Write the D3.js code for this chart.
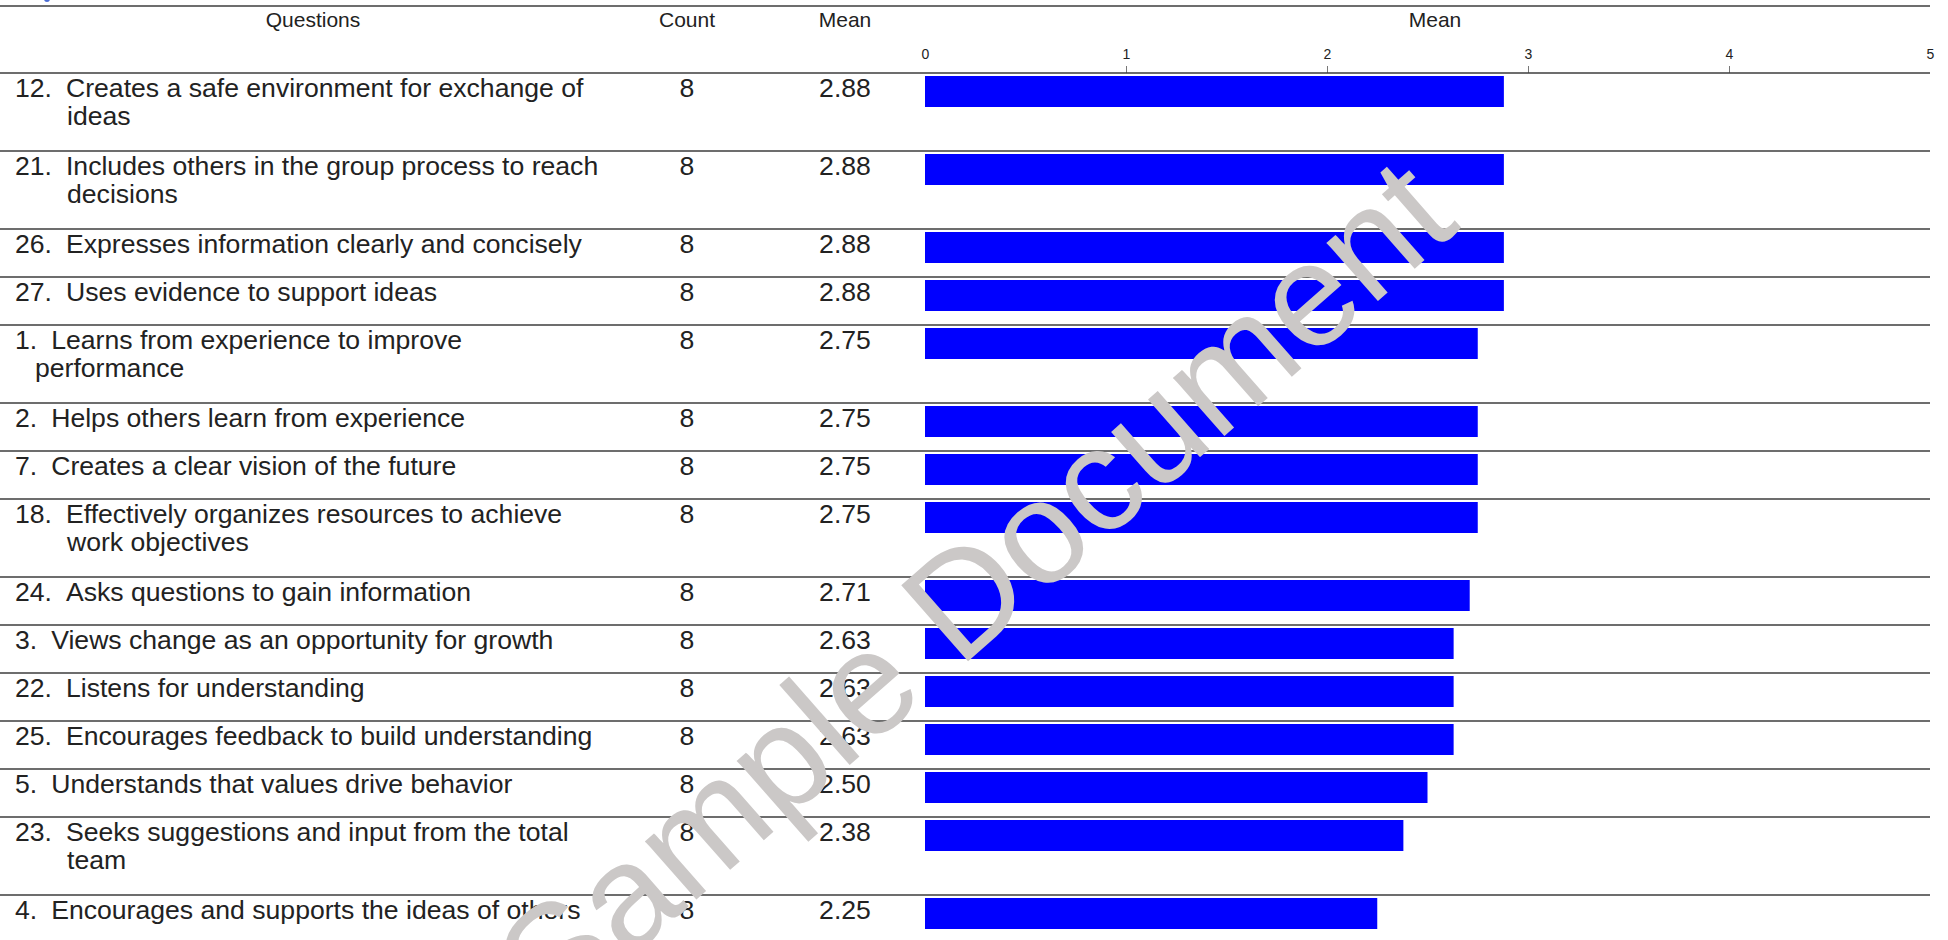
<!DOCTYPE html>
<html lang="en">
<head>
    <meta charset="UTF-8">
    <title>Questions - Mean</title>
    <script src="https://d3js.org/d3.v7.min.js"></script>
    <style>
        body { margin: 0; background: #fff; }
        svg { display: block; font-family: "Liberation Sans", Arial, sans-serif; }
        .rule { stroke: #3c3c3c; stroke-width: 1.5; }
        .hdr { font-size: 21px; fill: #222; }
        .cell { font-size: 26.6px; fill: #222; }
        .bar { fill: #0000ff; }
    </style>
</head>
<body>
<script>
    var questionNums = [12, 21, 26, 27, 1, 2, 7, 18, 24, 3, 22, 25, 5, 23, 4];
    var questionTexts = [
        "Creates a safe environment for exchange of ideas",
        "Includes others in the group process to reach decisions",
        "Expresses information clearly and concisely",
        "Uses evidence to support ideas",
        "Learns from experience to improve performance",
        "Helps others learn from experience",
        "Creates a clear vision of the future",
        "Effectively organizes resources to achieve work objectives",
        "Asks questions to gain information",
        "Views change as an opportunity for growth",
        "Listens for understanding",
        "Encourages feedback to build understanding",
        "Understands that values drive behavior",
        "Seeks suggestions and input from the total team",
        "Encourages and supports the ideas of others"
    ];
    var counts = [8, 8, 8, 8, 8, 8, 8, 8, 8, 8, 8, 8, 8, 8, 8];
    var means = [2.88, 2.88, 2.88, 2.88, 2.75, 2.75, 2.75, 2.75, 2.71, 2.63, 2.63, 2.63, 2.50, 2.38, 2.25];
    var axisTicks = [0, 1, 2, 3, 4, 5];

    var width = 1948, height = 940;
    var lineRight = 1930;
    var headTop = 73;       // y of the rule under the header
    var textX = 15, wrapRight = 609;

    var svg = d3.select("body").append("svg")
        .attr("width", width)
        .attr("height", height);

    var x = d3.scaleLinear().domain([0, 5]).range([925, 1930]);

    // text measuring helper
    var probe = svg.append("text").attr("class", "cell").attr("x", -9999).attr("y", -9999);
    function textWidth(s) {
        probe.text(s);
        return probe.node().getComputedTextLength();
    }

    // wrap each question; continuation lines are hung under the text
    var rows = [];
    var y = headTop;
    questionNums.forEach(function(num, i) {
        var numLabel = num + ".";
        var firstX = textX + textWidth(numLabel) + 14;
        var contX = textX + String(num).length * 32 - 12;
        var words = questionTexts[i].split(" ");
        var lines = [], cur = "", curX = firstX;
        words.forEach(function(w) {
            var test = cur ? cur + " " + w : w;
            if (cur && curX + textWidth(test) > wrapRight) {
                lines.push({ x: curX, text: cur });
                cur = w;
                curX = contX;
            } else {
                cur = test;
            }
        });
        lines.push({ x: curX, text: cur });
        var h = 48 + 30 * (lines.length - 1);
        rows.push({ num: numLabel, lines: lines, count: counts[i], mean: means[i], top: y, h: h });
        y += h;
    });
    probe.remove();

    // header
    svg.append("line").attr("class", "rule")
        .attr("x1", 0).attr("x2", lineRight).attr("y1", 6).attr("y2", 6);
    svg.append("circle").attr("cx", 47).attr("cy", -1).attr("r", 3).attr("fill", "#4a6cd4");

    var headers = [
        { label: "Questions", x: 313 },
        { label: "Count", x: 687 },
        { label: "Mean", x: 845 },
        { label: "Mean", x: 1435 }
    ];
    svg.selectAll(".hdr")
        .data(headers)
        .enter().append("text")
        .attr("class", "hdr")
        .attr("x", function(d) { return d.x; })
        .attr("y", 27)
        .attr("text-anchor", "middle")
        .text(function(d) { return d.label; });

    // axis on top of the bars
    var axis = svg.append("g")
        .attr("transform", "translate(0," + headTop + ")")
        .call(d3.axisTop(x).tickValues(axisTicks).tickSize(7).tickPadding(7).tickFormat(d3.format("d")));
    axis.select(".domain").remove();
    axis.selectAll(".tick line")
        .attr("stroke", "#777")
        .attr("opacity", function(d) { return d === 0 || d === 5 ? 0 : 1; });
    axis.selectAll(".tick text")
        .style("font-family", "\"Liberation Sans\", Arial, sans-serif")
        .style("font-size", "14px")
        .attr("fill", "#222");

    svg.append("line").attr("class", "rule")
        .attr("x1", 0).attr("x2", lineRight).attr("y1", headTop).attr("y2", headTop);

    // rows
    var row = svg.selectAll(".row")
        .data(rows)
        .enter().append("g")
        .attr("class", "row")
        .attr("transform", function(d) { return "translate(0," + d.top + ")"; });

    row.filter(function(d, i) { return i > 0; })
        .append("line").attr("class", "rule")
        .attr("x1", 0).attr("x2", lineRight).attr("y1", 0).attr("y2", 0);

    row.append("text").attr("class", "cell")
        .attr("x", textX).attr("y", 24)
        .text(function(d) { return d.num; });

    row.selectAll(".qline")
        .data(function(d) { return d.lines; })
        .enter().append("text")
        .attr("class", "cell qline")
        .attr("x", function(d) { return d.x; })
        .attr("y", function(d, j) { return 24 + j * 28; })
        .text(function(d) { return d.text; });

    row.append("text").attr("class", "cell")
        .attr("x", 687).attr("y", 24).attr("text-anchor", "middle")
        .text(function(d) { return d.count; });

    row.append("text").attr("class", "cell")
        .attr("x", 845).attr("y", 24).attr("text-anchor", "middle")
        .text(function(d) { return d3.format(".2f")(d.mean); });

    row.append("rect").attr("class", "bar")
        .attr("x", x(0))
        .attr("y", 3)
        .attr("width", function(d) { return x(d.mean) - x(0); })
        .attr("height", 31);

    // watermark
    svg.append("text")
        .attr("transform", "translate(1008,626) rotate(-41.3)")
        .attr("text-anchor", "middle")
        .style("font-size", "147px")
        .attr("fill", "#cbc8c7")
        .text("Sample Document");
</script>
</body>
</html>
